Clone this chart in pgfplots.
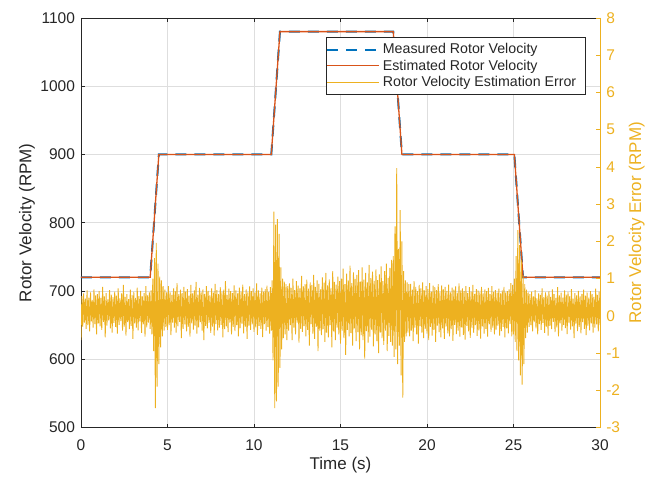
\documentclass[border=0pt]{standalone}
\usepackage{fontspec}
\setmainfont{Liberation Sans}
\setsansfont{Liberation Sans}
\usepackage{pgfplots}
\pgfplotsset{compat=1.18}
\definecolor{mblue}{rgb}{0,0.447,0.741}
\definecolor{morange}{rgb}{0.85,0.325,0.098}
\definecolor{myellow}{rgb}{0.929,0.694,0.125}
\definecolor{axgray}{rgb}{0.15,0.15,0.15}
\definecolor{gridgray}{rgb}{0.87,0.87,0.87}
\begin{document}
\begin{tikzpicture}
\begin{axis}[
  at={(0,0)}, anchor=south west,
  scale only axis, width=519bp, height=409.5bp,
  xmin=0, xmax=30, ymin=500, ymax=1100,
  xtick={0,5,...,30}, ytick={500,600,...,1100},
  ytick pos=left, xtick pos=both,
  tick align=inside, major tick length=4bp,
  grid=major, major grid style={gridgray, line width=0.5bp},
  axis line style={axgray, line width=0.6bp},
  tick style={axgray, line width=0.6bp},
  /pgf/number format/assume math mode=true,
  /pgf/number format/1000 sep={},
  tick label style={font=\fontsize{15.5bp}{18bp}\selectfont, text=axgray},
  xticklabel style={yshift=-9bp},
  yticklabel style={xshift=-2.5bp},
  label style={font=\fontsize{17bp}{20bp}\selectfont, text=axgray},
  xlabel={Time (s)},
  ylabel={Rotor Velocity (RPM)},
  xlabel style={at={(axis description cs:0.5,-0.0916)}, anchor=center},
  ylabel style={at={(axis description cs:-0.104,0.5)}, anchor=center},
]
\addplot[color=mblue, line width=2bp, dash pattern=on 11bp off 8bp] coordinates {
(0,720)(4,720)(4.5,900)(11,900)(11.5,1080)(18.05,1080)(18.55,900)(25.05,900)(25.55,720)(30,720)};
\addplot[color=morange, line width=1.3bp] coordinates {
(0,720)(4,720)(4.5,900)(11,900)(11.5,1080)(18.05,1080)(18.55,900)(25.05,900)(25.55,720)(30,720)};
\end{axis}
\begin{axis}[
  at={(0,0)}, anchor=south west,
  scale only axis, width=519bp, height=409.5bp,
  xmin=0, xmax=30, ymin=-3, ymax=8,
  axis x line=none, axis y line*=right,
  ytick={-3,-2,...,8},
  tick align=inside, major tick length=4bp,
  axis line style={myellow, line width=0.6bp},
  tick style={myellow, line width=0.6bp},
  /pgf/number format/assume math mode=true,
  tick label style={font=\fontsize{15.5bp}{18bp}\selectfont, text=myellow},
  yticklabel style={xshift=2.8bp},
  label style={font=\fontsize{17bp}{20bp}\selectfont, text=myellow},
  ylabel={Rotor Velocity Error (RPM)},
  ylabel style={at={(axis description cs:1.071,0.5)}, anchor=center},
  legend cell align=left,
  legend image code/.code={\draw[#1] (0bp,0bp) -- (52bp,0bp);},
  legend style={at={(0.971,0.9536)}, anchor=north east, draw=axgray, fill=white,
    inner xsep=0bp, inner ysep=4.2bp, row sep=0bp,
    font=\fontsize{14.2bp}{16bp}\selectfont,
    nodes={inner xsep=2.5bp, inner ysep=2.25bp}},
]
\addlegendimage{color=mblue, line width=2bp, dash pattern=on 11bp off 8bp}
\addlegendentry{\color{axgray}Measured Rotor Velocity}
\addlegendimage{color=morange, line width=1.3bp}
\addlegendentry{\color{axgray}Estimated Rotor Velocity}
\addlegendimage{color=myellow, line width=0.6bp}
\addlegendentry{\color{axgray}Rotor Velocity Estimation Error\kern6bp}
\addplot[color=myellow, line width=0.9bp, line join=bevel, forget plot] coordinates {
(0.00,-0.65)(0.05,0.53)(0.10,-0.30)(0.15,0.60)(0.20,-0.18)(0.25,0.46)(0.30,-0.35)(0.35,0.68)(0.40,-0.25)(0.45,0.49)(0.50,-0.42)(0.55,0.63)(0.60,-0.15)(0.65,0.43)(0.70,-0.32)(0.75,0.71)(0.80,-0.22)(0.85,0.55)(0.90,-0.50)(0.95,0.58)
(1.00,-0.20)(1.05,0.66)(1.10,-0.28)(1.15,0.48)(1.20,-0.38)(1.25,0.78)(1.30,-0.16)(1.35,0.52)(1.40,-0.58)(1.45,0.61)(1.50,-0.26)(1.55,0.44)(1.60,-0.12)(1.65,0.69)(1.70,-0.34)(1.75,0.57)(1.80,-0.45)(1.85,0.50)(1.90,-0.19)(1.95,0.65)
(2.00,-0.30)(2.05,0.54)(2.10,-0.48)(2.15,0.74)(2.20,-0.24)(2.25,0.47)(2.30,-0.14)(2.35,0.60)(2.40,-0.40)(2.45,0.83)(2.50,-0.29)(2.55,0.51)(2.60,-0.53)(2.65,0.58)(2.70,-0.17)(2.75,0.45)(2.80,-0.36)(2.85,0.70)(2.90,-0.27)(2.95,0.56)
(3.00,-0.62)(3.05,0.64)(3.10,-0.20)(3.15,0.48)(3.20,-0.32)(3.25,0.76)(3.30,-0.39)(3.35,0.53)(3.40,-0.15)(3.45,0.67)(3.50,-0.46)(3.55,0.52)(3.60,-0.23)(3.65,0.61)(3.70,-0.56)(3.75,0.80)(3.80,-0.31)(3.85,0.55)(3.90,-0.18)(3.95,0.63)
(4.00,-0.35)(4.05,0.68)(4.10,-0.50)(4.15,1.00)(4.20,-0.95)(4.25,1.55)(4.30,-2.48)(4.35,1.96)(4.40,-1.90)(4.45,1.40)(4.50,-1.30)(4.55,1.05)(4.60,-0.85)(4.65,0.95)(4.70,-0.55)(4.75,0.80)(4.80,-0.40)(4.85,0.70)(4.90,-0.30)(4.95,0.63)
(5.00,-0.38)(5.05,0.80)(5.10,-0.25)(5.15,0.63)(5.20,-0.52)(5.25,0.56)(5.30,-0.18)(5.35,0.74)(5.40,-0.32)(5.45,0.66)(5.50,-0.45)(5.55,0.88)(5.60,-0.28)(5.65,0.58)(5.70,-0.16)(5.75,0.70)(5.80,-0.60)(5.85,0.61)(5.90,-0.35)(5.95,0.78)
(6.00,-0.23)(6.05,0.65)(6.10,-0.42)(6.15,0.72)(6.20,-0.30)(6.25,0.54)(6.30,-0.56)(6.35,0.83)(6.40,-0.20)(6.45,0.60)(6.50,-0.37)(6.55,0.68)(6.60,-0.26)(6.65,0.91)(6.70,-0.48)(6.75,0.57)(6.80,-0.31)(6.85,0.75)(6.90,-0.17)(6.95,0.63)
(7.00,-0.40)(7.05,0.71)(7.10,-0.65)(7.15,0.59)(7.20,-0.27)(7.25,0.80)(7.30,-0.34)(7.35,0.67)(7.40,-0.19)(7.45,0.55)(7.50,-0.46)(7.55,0.74)(7.60,-0.29)(7.65,0.62)(7.70,-0.53)(7.75,0.86)(7.80,-0.22)(7.85,0.69)(7.90,-0.39)(7.95,0.58)
(8.00,-0.32)(8.05,0.77)(8.10,-0.24)(8.15,0.64)(8.20,-0.58)(8.25,0.70)(8.30,-0.36)(8.35,0.93)(8.40,-0.28)(8.45,0.56)(8.50,-0.44)(8.55,0.73)(8.60,-0.18)(8.65,0.66)(8.70,-0.50)(8.75,0.61)(8.80,-0.30)(8.85,0.82)(8.90,-0.41)(8.95,0.68)
(9.00,-0.25)(9.05,0.60)(9.10,-0.55)(9.15,0.76)(9.20,-0.33)(9.25,0.65)(9.30,-0.21)(9.35,0.84)(9.40,-0.47)(9.45,0.58)(9.50,-0.29)(9.55,0.71)(9.60,-0.62)(9.65,0.63)(9.70,-0.26)(9.75,0.79)(9.80,-0.38)(9.85,0.66)(9.90,-0.23)(9.95,0.74)
(10.00,-0.43)(10.05,0.62)(10.10,-0.31)(10.15,0.87)(10.20,-0.51)(10.25,0.68)(10.30,-0.27)(10.35,0.60)(10.40,-0.35)(10.45,0.76)(10.50,-0.57)(10.55,0.65)(10.60,-0.22)(10.65,0.72)(10.70,-0.40)(10.75,0.81)(10.80,-0.30)(10.85,0.64)(10.90,-0.48)(10.95,0.77)
(11.00,-0.40)(11.05,0.95)(11.10,-1.20)(11.15,2.80)(11.20,-2.48)(11.25,2.45)(11.30,-2.30)(11.35,2.60)(11.40,-1.90)(11.45,2.20)(11.50,-1.40)(11.55,1.30)(11.60,-0.90)(11.65,1.00)(11.70,-0.60)(11.75,0.92)(11.80,-0.50)(11.85,0.85)(11.90,-0.65)(11.95,0.80)
(12.00,-0.40)(12.05,0.87)(12.10,-0.25)(12.15,0.75)(12.20,-0.65)(12.25,1.00)(12.30,-0.32)(12.35,0.69)(12.40,-0.50)(12.45,0.93)(12.50,-0.18)(12.55,0.81)(12.60,-0.72)(12.65,0.74)(12.70,-0.35)(12.75,1.07)(12.80,-0.43)(12.85,0.79)(12.90,-0.28)(12.95,0.85)
(13.00,-0.55)(13.05,0.97)(13.10,-0.38)(13.15,0.73)(13.20,-0.80)(13.25,0.90)(13.30,-0.22)(13.35,0.83)(13.40,-0.48)(13.45,1.10)(13.50,-0.62)(13.55,0.78)(13.60,-0.30)(13.65,0.95)(13.70,-0.95)(13.75,0.86)(13.80,-0.40)(13.85,0.71)(13.90,-0.52)(13.95,1.03)
(14.00,-0.36)(14.05,0.89)(14.10,-0.70)(14.15,1.15)(14.20,-0.45)(14.25,0.82)(14.30,-0.58)(14.35,0.98)(14.40,-0.25)(14.45,0.75)(14.50,-0.85)(14.55,1.20)(14.60,-0.42)(14.65,0.91)(14.70,-0.65)(14.75,0.84)(14.80,-0.32)(14.85,1.05)(14.90,-0.50)(14.95,0.93)
(15.00,-0.75)(15.05,1.00)(15.10,-0.40)(15.15,1.27)(15.20,-0.60)(15.25,0.85)(15.30,-1.05)(15.35,1.13)(15.40,-0.38)(15.45,0.95)(15.50,-0.55)(15.55,1.35)(15.60,-0.46)(15.65,0.88)(15.70,-0.80)(15.75,1.17)(15.80,-0.34)(15.85,0.99)(15.90,-0.68)(15.95,1.10)
(16.00,-0.44)(16.05,1.23)(16.10,-0.90)(16.15,0.92)(16.20,-0.52)(16.25,1.30)(16.30,-0.65)(16.35,0.97)(16.40,-1.15)(16.45,1.15)(16.50,-0.41)(16.55,0.90)(16.60,-0.72)(16.65,1.37)(16.70,-0.56)(16.75,1.01)(16.80,-0.37)(16.85,1.19)(16.90,-0.82)(16.95,0.94)
(17.00,-0.50)(17.05,1.25)(17.10,-0.68)(17.15,0.96)(17.20,-1.00)(17.25,1.11)(17.30,-0.45)(17.35,1.33)(17.40,-0.60)(17.45,0.93)(17.50,-0.78)(17.55,1.20)(17.60,-0.40)(17.65,1.40)(17.70,-0.95)(17.75,1.02)(17.80,-0.54)(17.85,1.29)(17.90,-0.70)(17.95,1.50)
(18.00,-0.80)(18.05,1.60)(18.10,-1.10)(18.15,2.40)(18.20,-0.90)(18.25,3.97)(18.30,-1.30)(18.35,1.80)(18.40,-0.80)(18.45,2.84)(18.50,-1.60)(18.55,2.00)(18.60,-2.20)(18.65,1.20)(18.70,-0.70)(18.75,0.95)(18.80,-0.55)(18.85,0.90)(18.90,-0.45)(18.95,0.85)
(19.00,-0.55)(19.05,0.86)(19.10,-0.40)(19.15,0.70)(19.20,-0.68)(19.25,0.93)(19.30,-0.32)(19.35,0.78)(19.40,-0.50)(19.45,0.66)(19.50,-0.75)(19.55,0.83)(19.60,-0.28)(19.65,0.74)(19.70,-0.45)(19.75,0.90)(19.80,-0.60)(19.85,0.68)(19.90,-0.35)(19.95,0.80)
(20.00,-0.48)(20.05,0.72)(20.10,-0.65)(20.15,0.88)(20.20,-0.30)(20.25,0.65)(20.30,-0.53)(20.35,0.81)(20.40,-0.38)(20.45,0.77)(20.50,-0.70)(20.55,0.69)(20.60,-0.26)(20.65,0.85)(20.70,-0.44)(20.75,0.64)(20.80,-0.58)(20.85,0.82)(20.90,-0.34)(20.95,0.71)
(21.00,-0.62)(21.05,0.78)(21.10,-0.29)(21.15,0.67)(21.20,-0.47)(21.25,0.84)(21.30,-0.55)(21.35,0.63)(21.40,-0.36)(21.45,0.76)(21.50,-0.67)(21.55,0.70)(21.60,-0.24)(21.65,0.79)(21.70,-0.49)(21.75,0.62)(21.80,-0.40)(21.85,0.87)(21.90,-0.56)(21.95,0.68)
(22.00,-0.31)(22.05,0.74)(22.10,-0.51)(22.15,0.66)(22.20,-0.64)(22.25,0.80)(22.30,-0.27)(22.35,0.61)(22.40,-0.42)(22.45,0.77)(22.50,-0.59)(22.55,0.65)(22.60,-0.33)(22.65,0.83)(22.70,-0.46)(22.75,0.59)(22.80,-0.25)(22.85,0.72)(22.90,-0.54)(22.95,0.68)
(23.00,-0.39)(23.05,0.63)(23.10,-0.61)(23.15,0.78)(23.20,-0.28)(23.25,0.60)(23.30,-0.48)(23.35,0.71)(23.40,-0.35)(23.45,0.66)(23.50,-0.56)(23.55,0.75)(23.60,-0.23)(23.65,0.58)(23.70,-0.43)(23.75,0.80)(23.80,-0.32)(23.85,0.64)(23.90,-0.50)(23.95,0.69)
(24.00,-0.37)(24.05,0.62)(24.10,-0.26)(24.15,0.73)(24.20,-0.53)(24.25,0.60)(24.30,-0.41)(24.35,0.68)(24.40,-0.30)(24.45,0.78)(24.50,-0.58)(24.55,0.63)(24.60,-0.34)(24.65,0.66)(24.70,-0.47)(24.75,0.71)(24.80,-0.22)(24.85,0.88)(24.90,-0.55)(24.95,0.83)
(25.00,-0.50)(25.05,1.00)(25.10,-0.70)(25.15,1.60)(25.20,-0.95)(25.25,2.30)(25.30,-1.20)(25.35,1.90)(25.40,-1.60)(25.45,1.50)(25.50,-1.85)(25.55,1.10)(25.60,-1.30)(25.65,0.85)(25.70,-0.60)(25.75,0.70)(25.80,-0.45)(25.85,0.63)(25.90,-0.30)(25.95,0.58)
(26.00,-0.25)(26.05,0.65)(26.10,-0.42)(26.15,0.52)(26.20,-0.17)(26.25,0.69)(26.30,-0.34)(26.35,0.47)(26.40,-0.50)(26.45,0.60)(26.50,-0.22)(26.55,0.56)(26.60,-0.38)(26.65,0.74)(26.70,-0.19)(26.75,0.50)(26.80,-0.46)(26.85,0.63)(26.90,-0.29)(26.95,0.54)
(27.00,-0.53)(27.05,0.66)(27.10,-0.27)(27.15,0.51)(27.20,-0.36)(27.25,0.71)(27.30,-0.16)(27.35,0.58)(27.40,-0.44)(27.45,0.48)(27.50,-0.31)(27.55,0.77)(27.60,-0.55)(27.65,0.55)(27.70,-0.20)(27.75,0.62)(27.80,-0.40)(27.85,0.49)(27.90,-0.24)(27.95,0.68)
(28.00,-0.33)(28.05,0.57)(28.10,-0.49)(28.15,0.64)(28.20,-0.18)(28.25,0.53)(28.30,-0.37)(28.35,0.72)(28.40,-0.28)(28.45,0.46)(28.50,-0.60)(28.55,0.61)(28.60,-0.21)(28.65,0.55)(28.70,-0.41)(28.75,0.67)(28.80,-0.30)(28.85,0.52)(28.90,-0.47)(28.95,0.59)
(29.00,-0.17)(29.05,0.70)(29.10,-0.35)(29.15,0.54)(29.20,-0.52)(29.25,0.63)(29.30,-0.26)(29.35,0.49)(29.40,-0.39)(29.45,0.66)(29.50,-0.20)(29.55,0.58)(29.60,-0.45)(29.65,0.51)(29.70,-0.32)(29.75,0.73)(29.80,-0.23)(29.85,0.56)(29.90,-0.42)(29.95,0.65)
(30.00,-0.25)};
\end{axis}
\pgfresetboundingbox
\path[use as bounding box] (-81bp,-52.5bp) rectangle (565bp,427.5bp);
\end{tikzpicture}
\end{document}
